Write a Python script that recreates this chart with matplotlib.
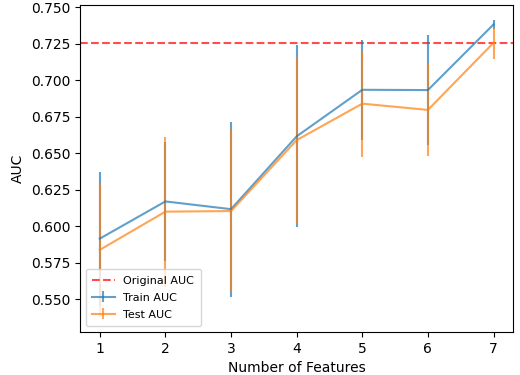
import matplotlib
matplotlib.use("Agg")
import matplotlib.pyplot as plt
import numpy as np

n_features = np.array([1, 2, 3, 4, 5, 6, 7])
train_auc = np.array([0.5915, 0.617, 0.6117, 0.6616, 0.6935, 0.6933, 0.7383])
train_err = np.array([0.046, 0.041, 0.060, 0.0623, 0.0343, 0.0378, 0.0032])
test_auc = np.array([0.5838, 0.610, 0.6104, 0.659, 0.684, 0.6797, 0.7257])
test_err = np.array([0.046, 0.0514, 0.0556, 0.057, 0.0363, 0.0316, 0.0108])
original_auc = 0.7258

fig = plt.figure(figsize=(5.2, 3.75), dpi=100)
ax = fig.add_axes([0.154, 0.115, 0.833, 0.872])

ax.axhline(original_auc, color="red", linestyle="--", alpha=0.7, label="Original AUC")
ax.errorbar(n_features, train_auc, yerr=train_err, alpha=0.7, label="Train AUC")
ax.errorbar(n_features, test_auc, yerr=test_err, alpha=0.7, label="Test AUC")

ax.set_xlabel("Number of Features")
ax.set_ylabel("AUC")
ax.legend(loc="lower left", fontsize=8, labelspacing=0.62, borderpad=0.6)

fig.savefig("out.png", dpi=100)
